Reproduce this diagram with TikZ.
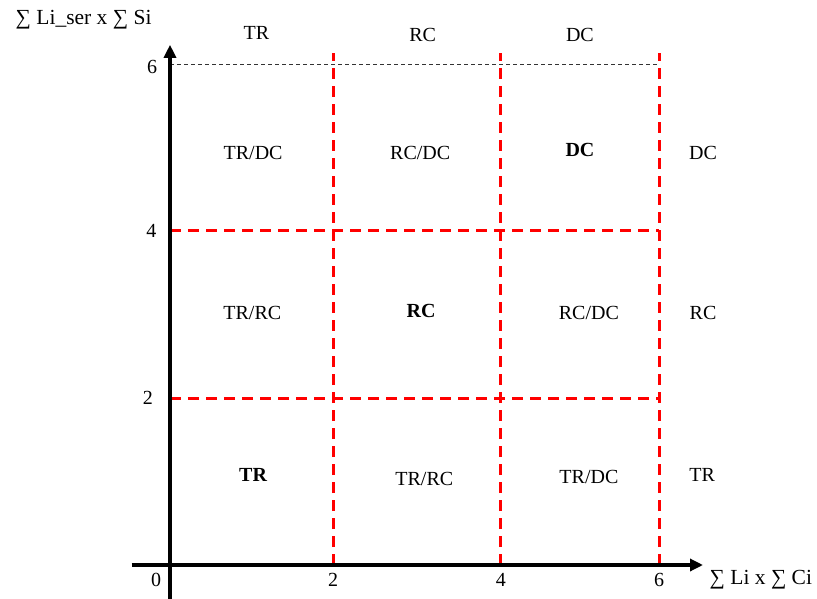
\documentclass[tikz,border=0pt]{standalone}
\usepackage{fontspec}
\setmainfont{Liberation Serif}
\usetikzlibrary{arrows.meta, positioning}

\begin{document}
\begin{tikzpicture}[
    x=81.5pt, y=83.5pt,
    txt/.style={
        inner sep=0pt,
        font=\fontsize{20}{24}\selectfont
    },
    bold/.style={txt, font=\fontsize{20}{24}\selectfont\bfseries},
    axlabel/.style={txt, font=\fontsize{21.5}{24}\selectfont},
    axis/.style={-{Triangle[length=13pt, width=12pt]}, line width=3.2pt},
    zone/.style={red, line width=3pt, dash pattern=on 11pt off 7pt},
    limit/.style={black!80, line width=0.9pt, dash pattern=on 4pt off 3pt}
]

\useasboundingbox (-170pt,-33pt) rectangle (647pt,565pt);

% axes
\coordinate (o) at (0,0);
\coordinate (xstart) at (-0.47,0);
\coordinate (xend) at (6.54,0);
\coordinate (ystart) at (0,-0.42);
\coordinate (yend) at (0,6.23);

% zone borders
\draw[zone] (2,0) -- (2,6.13);
\draw[zone] (4.06,0) -- (4.06,6.13);
\draw[zone] (6,0) -- (6,6.13);
\draw[zone] (0,2) -- (6,2);
\draw[zone] (0,4) -- (6,4);
\draw[limit] (0,6) -- (6,6);

\draw[axis] (xstart) -- (xend);
\draw[axis] (ystart) -- (yend);

% axis labels
\node[axlabel] (ylabel) at (-1.06,6.53) {∑ Li\_ser x ∑ Si};
\node[axlabel] (xlabel) at (7.25,-0.18) {∑ Li x ∑ Ci};

% ticks
\node[txt] (t0) at (-0.17,-0.18) {0};
\node[txt] (x2) at (2,-0.18) {2};
\node[txt] (x4) at (4.06,-0.18) {4};
\node[txt] (x6) at (6,-0.18) {6};
\node[txt] (y2) at (-0.27,2) {2};
\node[txt] (y4) at (-0.23,4) {4};
\node[txt] (y6) at (-0.22,5.96) {6};

% column heads
\node[txt] (hTR) at (1.06,6.37) {TR};
\node[txt] (hRC) at (3.10,6.35) {RC};
\node[txt] (hDC) at (5.03,6.35) {DC};

% row heads
\node[txt] (rDC) at (6.54,4.93) {DC};
\node[txt] (rRC) at (6.54,3.02) {RC};
\node[txt] (rTR) at (6.53,1.08) {TR};

% cells
\node[txt]  (c13) at (1.02,4.93) {TR/DC};
\node[txt]  (c23) at (3.07,4.93) {RC/DC};
\node[bold] (c33) at (5.03,4.97) {DC};
\node[txt]  (c12) at (1.01,3.02) {TR/RC};
\node[bold] (c22) at (3.08,3.04) {RC};
\node[txt]  (c32) at (5.14,3.02) {RC/DC};
\node[bold] (c11) at (1.02,1.08) {TR};
\node[txt]  (c21) at (3.12,1.03) {TR/RC};
\node[txt]  (c31) at (5.14,1.05) {TR/DC};

\end{tikzpicture}
\end{document}
